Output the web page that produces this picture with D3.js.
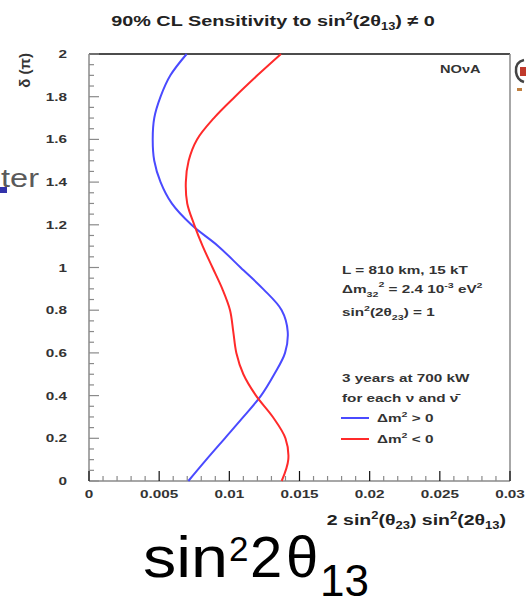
<!DOCTYPE html>
<html>
<head>
<meta charset="utf-8">
<script src="https://cdn.jsdelivr.net/npm/d3@7"></script>
<style>
  html, body { margin: 0; padding: 0; background: #fff; }
  svg { display: block; font-family: "Liberation Sans", Arial, Helvetica, sans-serif; }
</style>
</head>
<body>
<svg id="chart" width="526" height="605"></svg>
<script>
// ---- data ----
const deltaValues = [0, 0.1, 0.2, 0.3, 0.4, 0.5, 0.6, 0.7, 0.8, 0.9, 1.0,
                     1.1, 1.2, 1.3, 1.4, 1.5, 1.6, 1.7, 1.8, 1.9, 2.0];
const normalHierarchy = [0.00708, 0.00836, 0.00968, 0.0110, 0.01226, 0.0132, 0.01397, 0.01416, 0.01373, 0.0124, 0.0108,
                         0.00921, 0.0073, 0.0059, 0.0051, 0.00465, 0.00454, 0.00465, 0.0051, 0.0058, 0.00696];
const invertedHierarchy = [0.01373, 0.0142, 0.0140, 0.0131, 0.0119, 0.0110, 0.0105, 0.01028, 0.01005, 0.0095, 0.0088,
                           0.0081, 0.0075, 0.0070, 0.0069, 0.0071, 0.0077, 0.0089, 0.0104, 0.0120, 0.01368];
const xTickLabels = ["0", "0.005", "0.01", "0.015", "0.02", "0.025", "0.03"];
const xTickValues = [0, 0.005, 0.01, 0.015, 0.02, 0.025, 0.03];
const yTickLabels = ["0", "0.2", "0.4", "0.6", "0.8", "1", "1.2", "1.4", "1.6", "1.8", "2"];
const yTickValues = [0, 0.2, 0.4, 0.6, 0.8, 1.0, 1.2, 1.4, 1.6, 1.8, 2.0];
const seriesNames = ["Δm² > 0", "Δm² < 0"];

const svg = d3.select("#chart");
const pLeft = 89, pRight = 510, pTop = 54, pBottom = 481;
const x = d3.scaleLinear().domain([0, 0.03]).range([pLeft, pRight]);
const y = d3.scaleLinear().domain([0, 2]).range([pBottom, pTop]);
const SX = 1.33; // horizontal stretch of the reference image text

// helper: stretched text anchored at (tx, ty)
function stext(parent, tx, ty, sx, opts = {}) {
  const g = parent.append("g").attr("transform", `translate(${tx},${ty}) scale(${sx},1)`);
  const t = g.append("text").attr("x", 0).attr("y", 0)
    .attr("font-size", opts.size || 11)
    .attr("font-weight", opts.weight || "bold")
    .attr("fill", opts.fill || "#333")
    .attr("text-anchor", opts.anchor || "start");
  return t;
}

// frame
const axisGray = "#8a8a8a";
svg.append("line").attr("x1", pLeft).attr("x2", pRight).attr("y1", pTop).attr("y2", pTop)
  .attr("stroke", "#111").attr("stroke-width", 1.5);
svg.append("line").attr("x1", pRight).attr("x2", pRight).attr("y1", pTop).attr("y2", pBottom)
  .attr("stroke", axisGray).attr("stroke-width", 1.5);
svg.append("line").attr("x1", pLeft).attr("x2", pLeft).attr("y1", pTop).attr("y2", pBottom)
  .attr("stroke", axisGray).attr("stroke-width", 1.5);
svg.append("line").attr("x1", pLeft).attr("x2", pRight).attr("y1", pBottom).attr("y2", pBottom)
  .attr("stroke", axisGray).attr("stroke-width", 1.5);

// y ticks (inside)
const yMinor = d3.range(0, 2.0001, 0.05);
svg.append("g").selectAll("line").data(yMinor).join("line")
  .attr("x1", pLeft).attr("x2", (d, i) => pLeft + (i % 4 === 0 ? 10 : 5))
  .attr("y1", d => y(d)).attr("y2", d => y(d))
  .attr("stroke", axisGray).attr("stroke-width", 1.2);
yTickValues.forEach((v, i) => {
  stext(svg, 67, y(v) + 4, SX, { size: 11.5, anchor: "end" }).text(yTickLabels[i]);
});

// x ticks (inside)
const xMinor = d3.range(0, 0.03001, 0.001);
svg.append("g").selectAll("line").data(xMinor).join("line")
  .attr("x1", d => x(d)).attr("x2", d => x(d))
  .attr("y1", pBottom).attr("y2", (d, i) => pBottom - (i % 5 === 0 ? 10 : 5))
  .attr("stroke", (d, i) => i % 5 === 0 ? "#111" : axisGray).attr("stroke-width", 1.2);
xTickValues.forEach((v, i) => {
  stext(svg, x(v), 498, SX, { size: 11.5, anchor: "middle" }).text(xTickLabels[i]);
});

// curves
const line = d3.line().x(d => x(d[1])).y(d => y(d[0])).curve(d3.curveCatmullRom.alpha(0.5));
const blue = "#4a4aff", red = "#ff2a2a";
svg.append("path").datum(deltaValues.map((d, i) => [d, normalHierarchy[i]]))
  .attr("d", line).attr("fill", "none").attr("stroke", blue).attr("stroke-width", 2);
svg.append("path").datum(deltaValues.map((d, i) => [d, invertedHierarchy[i]]))
  .attr("d", line).attr("fill", "none").attr("stroke", red).attr("stroke-width", 2);

// title
const title = stext(svg, 273, 26, 1.28, { size: 15.5, anchor: "middle", fill: "#222" });
title.append("tspan").text("90% CL Sensitivity to sin");
title.append("tspan").attr("dy", -6).attr("font-size", 10).text("2");
title.append("tspan").attr("dy", 6).text("(2θ");
title.append("tspan").attr("dy", 4).attr("font-size", 10).text("13");
title.append("tspan").attr("dy", -4).text(") ≠ 0");

// y axis title
svg.append("text").attr("transform", "translate(30,53) rotate(-90)")
  .attr("text-anchor", "end").attr("font-size", 15).attr("font-weight", "bold").attr("fill", "#333")
  .text("δ (π)");

// x axis title
const xt = stext(svg, 506, 525, 1.3, { size: 15, anchor: "end", fill: "#222" });
xt.append("tspan").text("2 sin");
xt.append("tspan").attr("dy", -6).attr("font-size", 10).text("2");
xt.append("tspan").attr("dy", 6).text("(θ");
xt.append("tspan").attr("dy", 4).attr("font-size", 10).text("23");
xt.append("tspan").attr("dy", -4).text(") sin");
xt.append("tspan").attr("dy", -6).attr("font-size", 10).text("2");
xt.append("tspan").attr("dy", 6).text("(2θ");
xt.append("tspan").attr("dy", 4).attr("font-size", 10).text("13");
xt.append("tspan").attr("dy", -4).text(")");

// NOvA label
stext(svg, 440, 73, SX, { size: 11 }).text("NOνA");

// info text
stext(svg, 342, 274, SX, { size: 11.5 }).text("L = 810 km, 15 kT");
const dm = stext(svg, 342, 293, SX, { size: 11.5 });
dm.append("tspan").text("Δm");
dm.append("tspan").attr("dy", 4).attr("font-size", 8).text("32");
dm.append("tspan").attr("dy", -10).attr("font-size", 8).text("2");
dm.append("tspan").attr("dy", 6).text(" = 2.4 10");
dm.append("tspan").attr("dy", -5).attr("font-size", 8).text("-3");
dm.append("tspan").attr("dy", 5).text(" eV");
dm.append("tspan").attr("dy", -5).attr("font-size", 8).text("2");
const s23 = stext(svg, 342, 316, SX, { size: 11.5 });
s23.append("tspan").text("sin");
s23.append("tspan").attr("dy", -5).attr("font-size", 8).text("2");
s23.append("tspan").attr("dy", 5).text("(2θ");
s23.append("tspan").attr("dy", 4).attr("font-size", 8).text("23");
s23.append("tspan").attr("dy", -4).text(") = 1");
stext(svg, 342, 382, SX, { size: 11.5 }).text("3 years at 700 kW");
stext(svg, 342, 402, SX, { size: 11.5 }).text("for each ν and ν̄");

// legend
const legendColors = [blue, red];
seriesNames.forEach((name, i) => {
  const ly = 418 + i * 21;
  svg.append("line").attr("x1", 341).attr("x2", 369).attr("y1", ly).attr("y2", ly)
    .attr("stroke", legendColors[i]).attr("stroke-width", 2);
  const t = stext(svg, 377, ly + 4, SX, { size: 11.5 });
  t.append("tspan").text("Δm");
  t.append("tspan").attr("dy", -5).attr("font-size", 8).text("2");
  t.append("tspan").attr("dy", 5).text(name.slice(3));
});

// partial logo at right edge
svg.append("path").attr("d", "M524,60 Q515,62 516,72 Q517,80 524,82")
  .attr("fill", "none").attr("stroke", "#444").attr("stroke-width", 2.5);
svg.append("rect").attr("x", 520).attr("y", 67).attr("width", 6).attr("height", 9).attr("fill", "#c0392b");
svg.append("rect").attr("x", 517).attr("y", 88).attr("width", 5).attr("height", 3).attr("fill", "#c08040");

// slide remnants on the left
svg.append("rect").attr("x", 0).attr("y", 187).attr("width", 7).attr("height", 6).attr("fill", "#3333aa");
stext(svg, 39, 187, 1.25, { size: 26, weight: "normal", anchor: "end", fill: "#5a5a5a" }).text("ter");

// big bottom label
svg.append("text").attr("x", 143).attr("y", 577).attr("font-size", 58).attr("textLength", 85)
  .attr("lengthAdjust", "spacingAndGlyphs").attr("fill", "#000").text("sin");
svg.append("text").attr("x", 229).attr("y", 561).attr("font-size", 35).attr("fill", "#000").text("2");
svg.append("text").attr("x", 250).attr("y", 577).attr("font-size", 58).attr("fill", "#000").text("2");
svg.append("text").attr("x", 286).attr("y", 577).attr("font-size", 58).attr("fill", "#000").text("θ");
svg.append("text").attr("x", 320).attr("y", 596).attr("font-size", 44).attr("fill", "#000").text("13");
</script>
</body>
</html>
